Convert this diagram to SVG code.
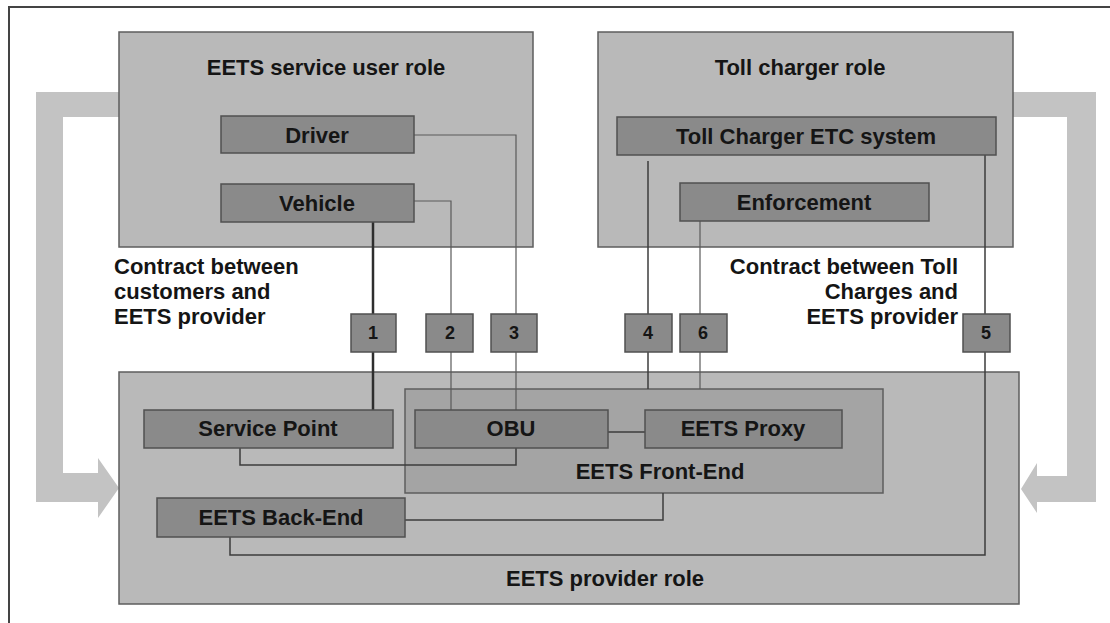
<svg xmlns="http://www.w3.org/2000/svg" width="1110" height="623" viewBox="0 0 1110 623">
<style>
text{font-family:"Liberation Sans",Arial,sans-serif;font-weight:bold;fill:#151515}
.t{font-size:22px}
.n{font-size:18px;text-anchor:middle}
.c{text-anchor:middle}
.big{fill:#b9b9b9;stroke:#5e5e5e;stroke-width:1.5}
.fe{fill:#a4a4a4;stroke:#5e5e5e;stroke-width:1.5}
.sm{fill:#8a8a8a;stroke:#505050;stroke-width:1.5}
.arr{fill:#c3c3c3}
.ln{fill:none;stroke:#3c3c3c;stroke-width:1.5}
.lt{fill:none;stroke:#5a5a5a;stroke-width:1.2}
.th{fill:none;stroke:#2e2e2e;stroke-width:2.5}
</style>
<rect width="1110" height="623" fill="#fff"/>
<path d="M9,623 V7 H1110" fill="none" stroke="#444" stroke-width="2"/>
<g id="contract-arrows">
<path class="arr" d="M119,92 H36 V502 H98 V518 L119,488 L98,458 V473 H63 V117 H119 Z"/>
<path class="arr" d="M1013,92 H1096 V502 H1037 V513 L1021,489 L1037,463 V476 H1067 V117 H1013 Z"/>
</g>
<g id="user-role"><rect class="big" x="119" y="32" width="414" height="215"/><text class="t c" x="326" y="75">EETS service user role</text></g>
<g id="toll-role"><rect class="big" x="598" y="32" width="415" height="215"/><text class="t c" x="800" y="75">Toll charger role</text></g>
<g id="provider-role"><rect class="big" x="119" y="372" width="900" height="232"/><text class="t c" x="605" y="586">EETS provider role</text></g>
<g id="front-end"><rect class="fe" x="405" y="389" width="478" height="104"/><text class="t c" x="660" y="479">EETS Front-End</text></g>
<g id="connectors">
<path class="lt" d="M414,135 H516 V410"/>
<path class="lt" d="M414,201 H451 V410"/>
<path class="th" d="M373,222 V410"/>
<path class="ln" d="M648,161 V389"/>
<path class="lt" d="M700,221 V389"/>
<path class="ln" d="M985,155 V555 H230 V537"/>
<path class="ln" d="M608,432 H645"/>
<path class="ln" d="M240,448 V465 H516 V448"/>
<path class="ln" d="M405,520 H663 V493"/>
</g>
<g id="driver"><rect class="sm" x="221" y="116" width="193" height="37"/><text class="t c" x="317" y="143">Driver</text></g>
<g id="vehicle"><rect class="sm" x="221" y="184" width="193" height="38"/><text class="t c" x="317" y="211">Vehicle</text></g>
<g id="toll-etc"><rect class="sm" x="617" y="117" width="379" height="38"/><text class="t c" x="806" y="144">Toll Charger ETC system</text></g>
<g id="enforcement"><rect class="sm" x="680" y="183" width="249" height="38"/><text class="t c" x="804" y="210">Enforcement</text></g>
<g id="service-point"><rect class="sm" x="144" y="410" width="249" height="38"/><text class="t c" x="268" y="436">Service Point</text></g>
<g id="obu"><rect class="sm" x="415" y="410" width="193" height="38"/><text class="t c" x="511" y="436">OBU</text></g>
<g id="proxy"><rect class="sm" x="645" y="410" width="197" height="38"/><text class="t c" x="743" y="436">EETS Proxy</text></g>
<g id="back-end"><rect class="sm" x="157" y="498" width="248" height="39"/><text class="t c" x="281" y="525">EETS Back-End</text></g>
<g id="i1"><rect class="sm" x="351" y="314" width="45" height="38"/><text class="n" x="373" y="339">1</text></g>
<g id="i2"><rect class="sm" x="426" y="314" width="47" height="38"/><text class="n" x="450" y="339">2</text></g>
<g id="i3"><rect class="sm" x="491" y="314" width="46" height="38"/><text class="n" x="514" y="339">3</text></g>
<g id="i4"><rect class="sm" x="625" y="314" width="47" height="38"/><text class="n" x="648" y="339">4</text></g>
<g id="i6"><rect class="sm" x="680" y="314" width="47" height="38"/><text class="n" x="703" y="339">6</text></g>
<g id="i5"><rect class="sm" x="963" y="314" width="47" height="38"/><text class="n" x="986" y="339">5</text></g>
<g id="labels">
<text class="t" x="114" y="274">Contract between</text>
<text class="t" x="114" y="299">customers and</text>
<text class="t" x="114" y="324">EETS provider</text>
<text class="t" text-anchor="end" x="958" y="274">Contract between Toll</text>
<text class="t" text-anchor="end" x="958" y="299">Charges and</text>
<text class="t" text-anchor="end" x="958" y="324">EETS provider</text>
</g>
</svg>
